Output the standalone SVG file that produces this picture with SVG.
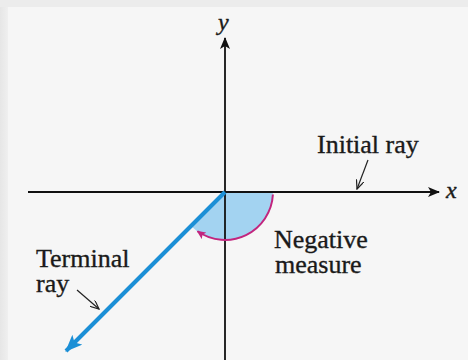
<svg xmlns="http://www.w3.org/2000/svg" width="468" height="360" viewBox="0 0 468 360">
<defs>
<style>
.lbl{font-family:"Liberation Serif","Times New Roman",serif;font-size:26px;fill:#1a1a1a;stroke:#1a1a1a;stroke-width:0.35}
.var{font-family:"Liberation Serif","Times New Roman",serif;font-size:24px;font-style:italic;fill:#1a1a1a;stroke:#1a1a1a;stroke-width:0.4}
.axis{stroke:#111;stroke-width:1.8;fill:none}
.ptr{stroke:#222;stroke-width:1.2;fill:none}
</style>
<linearGradient id="lg" x1="0" y1="0" x2="1" y2="0">
<stop offset="0" stop-color="#e6e6e6"/>
<stop offset="1" stop-color="#f4f4f4"/>
</linearGradient>
<marker id="ahBlack" viewBox="0 0 12 10" refX="11" refY="5" markerWidth="12" markerHeight="10" markerUnits="userSpaceOnUse" orient="auto">
<path d="M0,0 L12,5 L0,10 L3,5 z" fill="#111"/>
</marker>
<marker id="ahBlue" viewBox="0 0 17 14" refX="16" refY="7" markerWidth="17" markerHeight="14" markerUnits="userSpaceOnUse" orient="auto">
<path d="M0,0 L17,7 L0,14 L4,7 z" fill="#1b8fd6"/>
</marker>
<marker id="ahPtr" viewBox="0 0 10 8" refX="9" refY="4" markerWidth="10" markerHeight="8" markerUnits="userSpaceOnUse" orient="auto">
<path d="M0,0 L9,4 L0,8" fill="none" stroke="#222" stroke-width="1.2"/>
</marker>
<marker id="ahMag" viewBox="0 0 9 8" refX="8" refY="4" markerWidth="9" markerHeight="8" markerUnits="userSpaceOnUse" orient="auto">
<path d="M0,0 L9,4 L0,8 L2,4 z" fill="#c2257e"/>
</marker>
</defs>
<rect x="0" y="0" width="468" height="360" fill="#ececec"/>
<rect x="0" y="7" width="12" height="353" fill="url(#lg)"/>
<rect x="8" y="7" width="460" height="353" fill="#f6f6f6"/>

<g id="sector">
<path d="M225,192 L273,192 A48,48 0 0 1 191.06,225.94 Z" fill="#a3d3f1"/>
</g>

<g id="connectors">
<line class="axis" x1="28" y1="192" x2="439" y2="192" marker-end="url(#ahBlack)"/>
<line class="axis" x1="225" y1="360" x2="225" y2="38" marker-end="url(#ahBlack)"/>
<line x1="225" y1="192" x2="66" y2="351" stroke="#1b8fd6" stroke-width="4" marker-end="url(#ahBlue)"/>
<path d="M272.9,194.5 A48,48 0 0 1 197.5,231.3" fill="none" stroke="#c2257e" stroke-width="2" marker-end="url(#ahMag)"/>
<line class="ptr" x1="368" y1="160" x2="357" y2="189" marker-end="url(#ahPtr)"/>
<line class="ptr" x1="77" y1="290" x2="99" y2="309" marker-end="url(#ahPtr)"/>
</g>

<g id="label-y"><text class="var" x="218" y="30">y</text></g>
<g id="label-x"><text class="var" x="446" y="198">x</text></g>
<g id="label-initial"><text class="lbl" x="317" y="153">Initial ray</text></g>
<g id="label-negative">
<text class="lbl" x="274" y="248">Negative</text>
<text class="lbl" x="275" y="273">measure</text>
</g>
<g id="label-terminal">
<text class="lbl" x="36" y="267">Terminal</text>
<text class="lbl" x="36" y="292">ray</text>
</g>
</svg>
